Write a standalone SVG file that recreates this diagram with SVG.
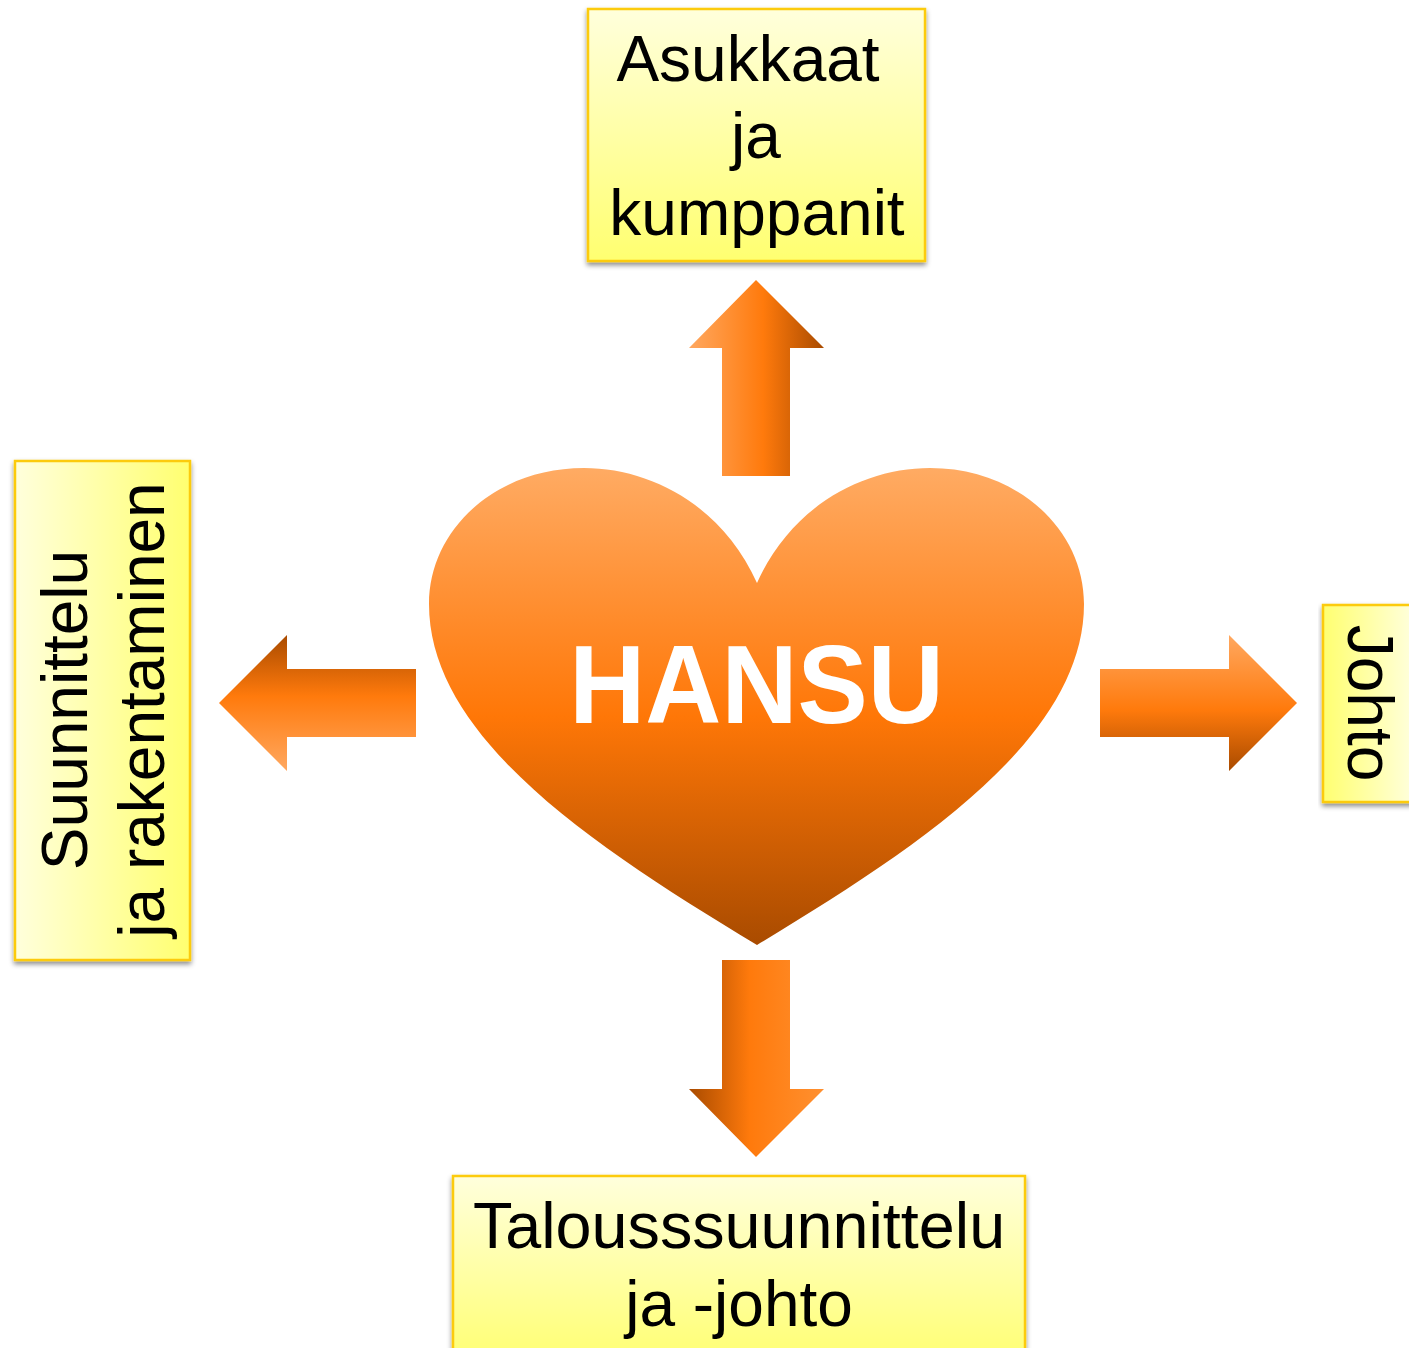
<svg xmlns="http://www.w3.org/2000/svg" width="1409" height="1348" viewBox="0 0 1409 1348">
<style>
.box{stroke:#fccb0a;stroke-width:2.5}
.t{font-family:"Liberation Sans",Arial,sans-serif;font-size:64px;fill:#000;text-anchor:middle}
</style>
<defs>
<linearGradient id="yv" x1="0" y1="0" x2="0" y2="1"><stop offset="0" stop-color="#ffffdc"/><stop offset="1" stop-color="#ffff70"/></linearGradient>
<linearGradient id="yh" x1="0" y1="0" x2="1" y2="0"><stop offset="0" stop-color="#ffffdc"/><stop offset="1" stop-color="#ffff70"/></linearGradient>
<linearGradient id="yr" x1="1" y1="0" x2="0" y2="0"><stop offset="0" stop-color="#ffffdc"/><stop offset="1" stop-color="#ffff70"/></linearGradient>
<linearGradient id="heart" x1="0" y1="0" x2="0" y2="1"><stop offset="0" stop-color="#ffab63"/><stop offset="0.52" stop-color="#ff7707"/><stop offset="1" stop-color="#a94b00"/></linearGradient>
<linearGradient id="au" x1="0" y1="0" x2="1" y2="0"><stop offset="0" stop-color="#ffa860"/><stop offset="0.55" stop-color="#ff7a0c"/><stop offset="1" stop-color="#a94b00"/></linearGradient>
<linearGradient id="ad" x1="0" y1="0" x2="1" y2="0"><stop offset="0" stop-color="#a94b00"/><stop offset="0.45" stop-color="#ff7a0c"/><stop offset="1" stop-color="#ff9030"/></linearGradient>
<linearGradient id="al" x1="0" y1="0" x2="0" y2="1"><stop offset="0" stop-color="#a94b00"/><stop offset="0.45" stop-color="#ff7a0c"/><stop offset="1" stop-color="#ffa860"/></linearGradient>
<linearGradient id="ar" x1="0" y1="0" x2="0" y2="1"><stop offset="0" stop-color="#ffa860"/><stop offset="0.55" stop-color="#ff7a0c"/><stop offset="1" stop-color="#a94b00"/></linearGradient>
<filter id="sh" x="-5%" y="-5%" width="110%" height="110%"><feDropShadow dx="0" dy="3" stdDeviation="2.5" flood-color="#000" flood-opacity="0.45"/></filter>
</defs>
<g id="node-asukkaat">
<rect class="box" x="588" y="9" width="337" height="252" fill="url(#yv)" filter="url(#sh)"/>
<text class="t" x="748" y="81">Asukkaat</text>
<text class="t" x="756" y="158">ja</text>
<text class="t" x="757" y="235">kumppanit</text>
</g>
<g id="node-suunnittelu">
<rect class="box" x="15" y="461" width="175" height="499" fill="url(#yh)" filter="url(#sh)"/>
<text class="t" transform="translate(87 710) rotate(-90)">Suunnittelu</text>
<text class="t" transform="translate(164 710) rotate(-90)">ja rakentaminen</text>
</g>
<g id="node-johto">
<rect class="box" x="1323" y="605" width="90" height="197" fill="url(#yr)" filter="url(#sh)"/>
<text class="t" transform="translate(1348 703) rotate(90)">Johto</text>
</g>
<g id="node-talous">
<rect class="box" x="453" y="1176" width="572" height="190" fill="url(#yv)" filter="url(#sh)"/>
<text class="t" x="739" y="1248" style="font-size:64.7px">Talousssuunnittelu</text>
<text class="t" x="739" y="1326">ja -johto</text>
</g>
<g id="node-hansu">
<path d="M757 583C722 505 650 468 584 468C495 468 429 530 429 604C429 740 600 850 757 945C914 850 1084 740 1084 604C1084 530 1018 468 930 468C864 468 792 505 757 583Z" fill="url(#heart)"/>
<text transform="translate(756.5 723) scale(.94 1)" font-family="'Liberation Sans',Arial,sans-serif" font-size="112" font-weight="700" fill="#fff" text-anchor="middle">HANSU</text>
</g>
<g id="connectors">
<polygon points="756,280 824,348 790,348 790,476 722,476 722,348 689,348" fill="url(#au)"/>
<polygon points="756,1157 824,1089 790,1089 790,960 722,960 722,1089 689,1089" fill="url(#ad)"/>
<polygon points="219,703 287,635 287,669 416,669 416,737 287,737 287,771" fill="url(#al)"/>
<polygon points="1297,703 1229,635 1229,669 1100,669 1100,737 1229,737 1229,771" fill="url(#ar)"/>
</g>
</svg>
